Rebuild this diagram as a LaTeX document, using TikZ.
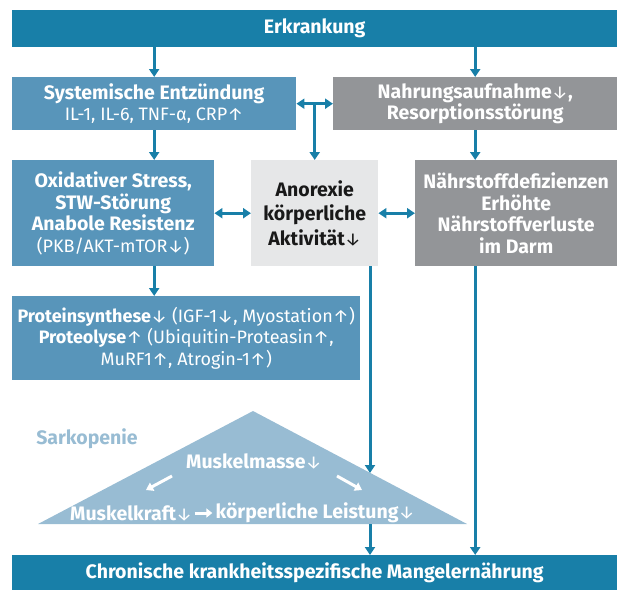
\documentclass[tikz,border=0pt]{standalone}
\usepackage{fontspec}
\setmainfont{Fira Sans}
\usetikzlibrary{arrows.meta}
\definecolor{darkblue}{RGB}{24,127,168}
\definecolor{midblue}{RGB}{88,149,186}
\definecolor{boxgray}{RGB}{147,149,152}
\definecolor{palegray}{RGB}{230,231,232}
\definecolor{sarko}{RGB}{152,188,211}
% thin arrows and regular text inside the bold texts
\newcommand{\reg}{\fontsize{18}{21.5}\selectfont\mdseries}
\newcommand{\up}{{\reg ↑}}
\newcommand{\dn}{{\reg ↓}}
\tikzset{
  % Set arrowhead
  >={Triangle[width=10pt, length=8pt]},
  % General box
  box/.style={anchor=north west, inner sep=0pt, align=center, text=white,
    font=\fontsize{19.5}{21.5}\selectfont\bfseries},
  % Top and bottom bar
  barbox/.style={box, fill=darkblue},
  % Blue box
  bluebox/.style={box, fill=midblue},
  % Gray box
  graybox/.style={box, fill=boxgray},
  % Light box
  palebox/.style={box, fill=palegray, text=black!90,
    font=\fontsize{19.5}{24.5}\selectfont\bfseries},
  % Texts on the triangle
  tritext/.style={text=white, inner sep=0pt,
    font=\fontsize{19.5}{21.5}\selectfont\bfseries},
  % Arrows
  flow/.style={draw=darkblue, line width=3pt, ->},
  flowboth/.style={flow, <->},
  wflow/.style={draw=white, line width=3pt,
    -{Triangle[width=9pt, length=7pt]}},
}
\begin{document}
\begin{tikzpicture}[x=1pt, y=-1pt]
  \useasboundingbox (0,0) rectangle (617,590);

  % Sarkopenie triangle
  \coordinate (apex) at (253,411);
  \coordinate (tl) at (38,524);
  \coordinate (tr) at (467,524);
  \coordinate (hit) at (370,473);
  \fill[sarko] (apex) -- (tr) -- (tl) -- cycle;

  \node[barbox, minimum width=605pt, minimum height=37pt] (erk) at (12,10)
    {Erkrankung};
  \node[bluebox, minimum width=284pt, minimum height=53pt] (syst) at (12,77)
    {Systemische Entzündung\\{\reg IL-1, IL-6, TNF-α, CRP↑}};
  \node[graybox, minimum width=284pt, minimum height=53pt] (nahr) at (333,77)
    {Nahrungsaufnahme\dn,\\Resorptionsstörung};
  \node[bluebox, minimum width=202pt, minimum height=106pt] (oxi) at (12,160)
    {Oxidativer Stress,\\STW-Störung\\Anabole Resistenz\\{\reg (PKB/AKT-mTOR↓)}};
  \node[palebox, minimum width=127pt, minimum height=106pt] (ano) at (251,160)
    {Anorexie\\körperliche\\Aktivität\dn};
  \node[graybox, minimum width=202pt, minimum height=106pt] (naehr) at (415,160)
    {Nährstoffdefizienzen\\Erhöhte\\Nährstoffverluste\\im Darm};
  \node[bluebox, minimum width=348pt, minimum height=84pt,
    font=\fontsize{18}{21.5}\selectfont\bfseries] (prot) at (12,296)
    {Proteinsynthese{\reg↓ (IGF-1↓, Myostation↑)}\\
     Proteolyse{\reg↑ (Ubiquitin-Proteasin↑,}\\
     {\reg MuRF1↑, Atrogin-1↑)}};
  \node[barbox, minimum width=605pt, minimum height=35pt] (chron) at (12,555)
    {Chronische krankheitsspezifische Mangelernährung};

  \node[tritext, text=sarko] (sarkotitle) at (87,439) {Sarkopenie};
  \node[tritext] (masse) at (254,461) {Muskelmasse\dn};
  \node[tritext, anchor=west] (kraft) at (70,513) {Muskelkraft\dn};
  \node[tritext, anchor=east] (leistung) at (415,513) {körperliche Leistung\dn};

  \coordinate (wla) at (172,476);
  \coordinate (wlb) at (146,490);
  \coordinate (wra) at (337,476);
  \coordinate (wrb) at (362,490);
  \draw[wflow] (wla) -- (wlb);
  \draw[wflow] (wra) -- (wrb);
  \draw[wflow, -{Triangle[width=9pt, length=6pt]}, shorten <=2pt,
    shorten >=3pt] (kraft.east) -- (leistung.west);

  \draw[flow] (erk.south -| syst.north) -- (syst.north);
  \draw[flow] (erk.south -| nahr.north) -- (nahr.north);
  \draw[flowboth] (syst.east) -- (nahr.west);
  \draw[flow] (syst.east -| ano.north) -- (ano.north);
  \draw[flow] (syst.south) -- (syst.south |- oxi.north);
  \draw[flow] (nahr.south) -- (nahr.south |- naehr.north);
  \draw[flowboth] (oxi.east) -- (ano.west);
  \draw[flowboth] (ano.east) -- (naehr.west);
  \draw[flow] (oxi.south -| syst.south) -- (prot.north -| syst.south);
  \draw[flow] (ano.south -| hit) -- (hit);
  \draw[flow] (hit |- tl) -- (chron.north -| hit);
  \draw[flow] (naehr.south -| nahr.south) -- (chron.north -| nahr.south);
\end{tikzpicture}
\end{document}
